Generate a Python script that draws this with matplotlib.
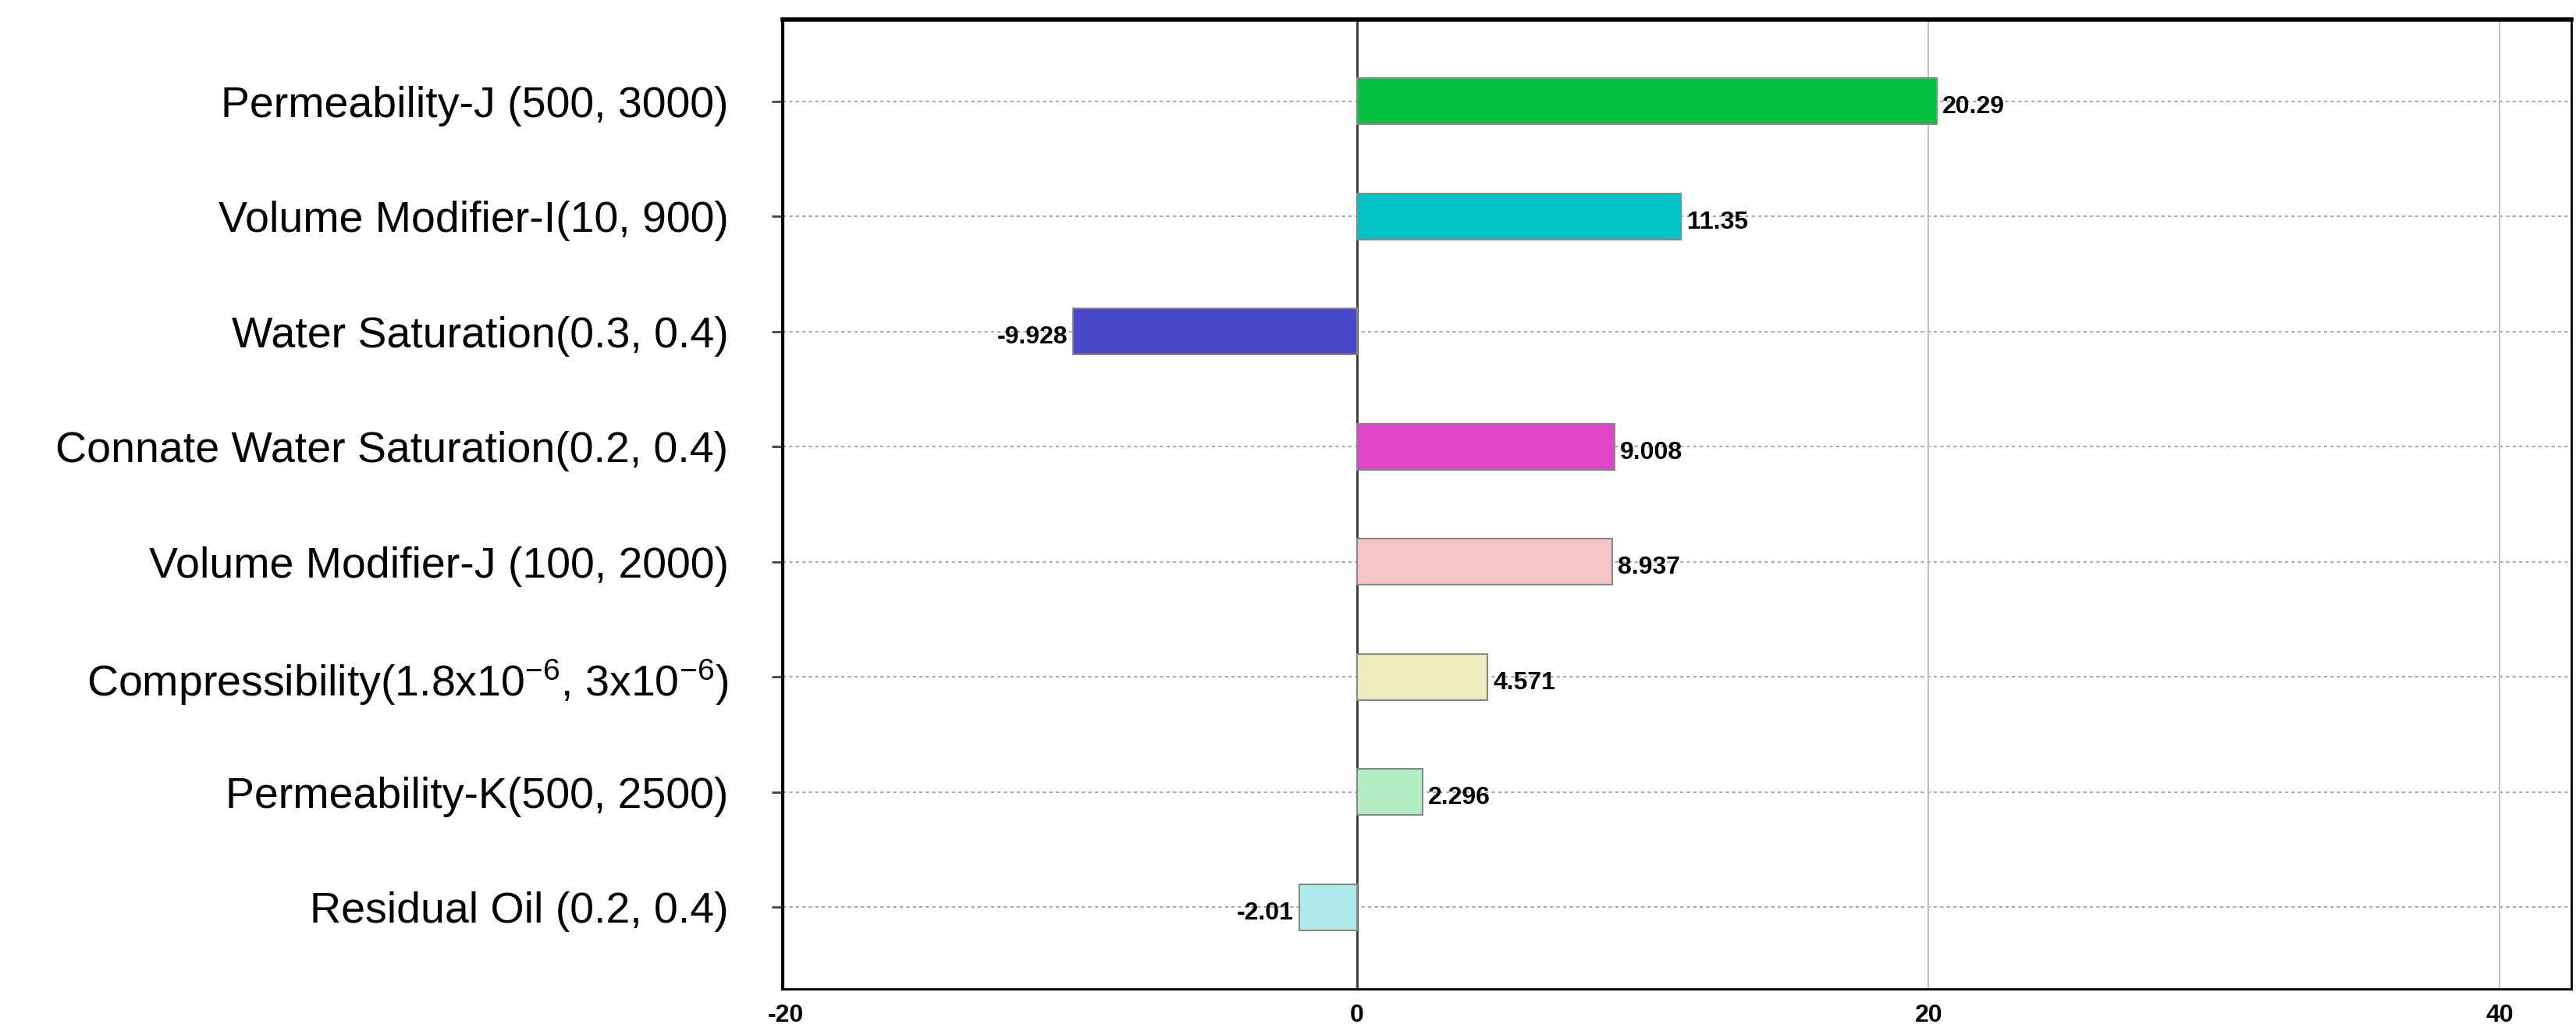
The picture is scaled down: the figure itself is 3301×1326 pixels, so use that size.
import matplotlib
matplotlib.use("Agg")
import matplotlib.pyplot as plt

plt.rcParams['font.family'] = ['Liberation Sans', 'DejaVu Sans']
plt.rcParams['mathtext.fontset'] = 'custom'
plt.rcParams['mathtext.rm'] = 'Liberation Sans'
plt.rcParams['mathtext.it'] = 'Liberation Sans'

categories = ["Residual Oil (0.2, 0.4)", "Permeability-K(500, 2500)",
              "Compressibility(1.8x10$^{-6}$, 3x10$^{-6}$)",
              "Volume Modifier-J (100, 2000)", "Connate Water Saturation(0.2, 0.4)",
              "Water Saturation(0.3, 0.4)", "Volume Modifier-I(10, 900)",
              "Permeability-J (500, 3000)"]
values = [-2.01, 2.296, 4.571, 8.937, 9.008, -9.928, 11.35, 20.29]
labels = ["-2.01", "2.296", "4.571", "8.937", "9.008", "-9.928", "11.35", "20.29"]
colors = ["#aeeaea", "#b2ecc2", "#ececbe", "#f5c4c4", "#e044c8", "#4848c8", "#00c4c4", "#00c040"]
xticks = [-20, 0, 20, 40]

fig = plt.figure(figsize=(33.01, 13.26), dpi=100)
ax = fig.add_axes([1003/3301, 1-1267/1326, (3295-1003)/3301, (1267-25)/1326])
y = list(range(len(categories)))
ax.barh(y, values, height=0.4, color=colors, edgecolor="#888888", linewidth=1.5, zorder=3)
for yi, v, t in zip(y, values, labels):
    ax.text(v + (0.2 if v > 0 else -0.2), yi - 0.05, t, ha='left' if v > 0 else 'right',
            va='center', fontsize=23, fontweight='bold', zorder=4)
ax.set_xlim(-20.1, 42.5)
ax.set_ylim(-0.71, 7.71)
ax.set_yticks(y)
ax.set_yticklabels(categories, fontsize=40)
ax.set_xticks(xticks)
ax.set_xticklabels([str(t) for t in xticks], fontsize=23, fontweight='bold')
ax.tick_params(axis='y', length=10, width=2, color='#444444', pad=40)
ax.tick_params(axis='x', length=0, pad=14)
for yi in y:
    ax.axhline(yi, color='#aaaaaa', linestyle=(0, (2, 2)), linewidth=1.5, zorder=1)
for xv in [20, 40]:
    ax.axvline(xv, color='#c0c0c0', linewidth=1.5, zorder=1)
ax.axvline(0, color='#333333', linewidth=2, zorder=2)
ax.spines['top'].set_linewidth(4)
ax.spines['left'].set_linewidth(3)
ax.spines['right'].set_linewidth(2)
ax.spines['bottom'].set_linewidth(2)
fig.savefig("out.png", dpi=100)
